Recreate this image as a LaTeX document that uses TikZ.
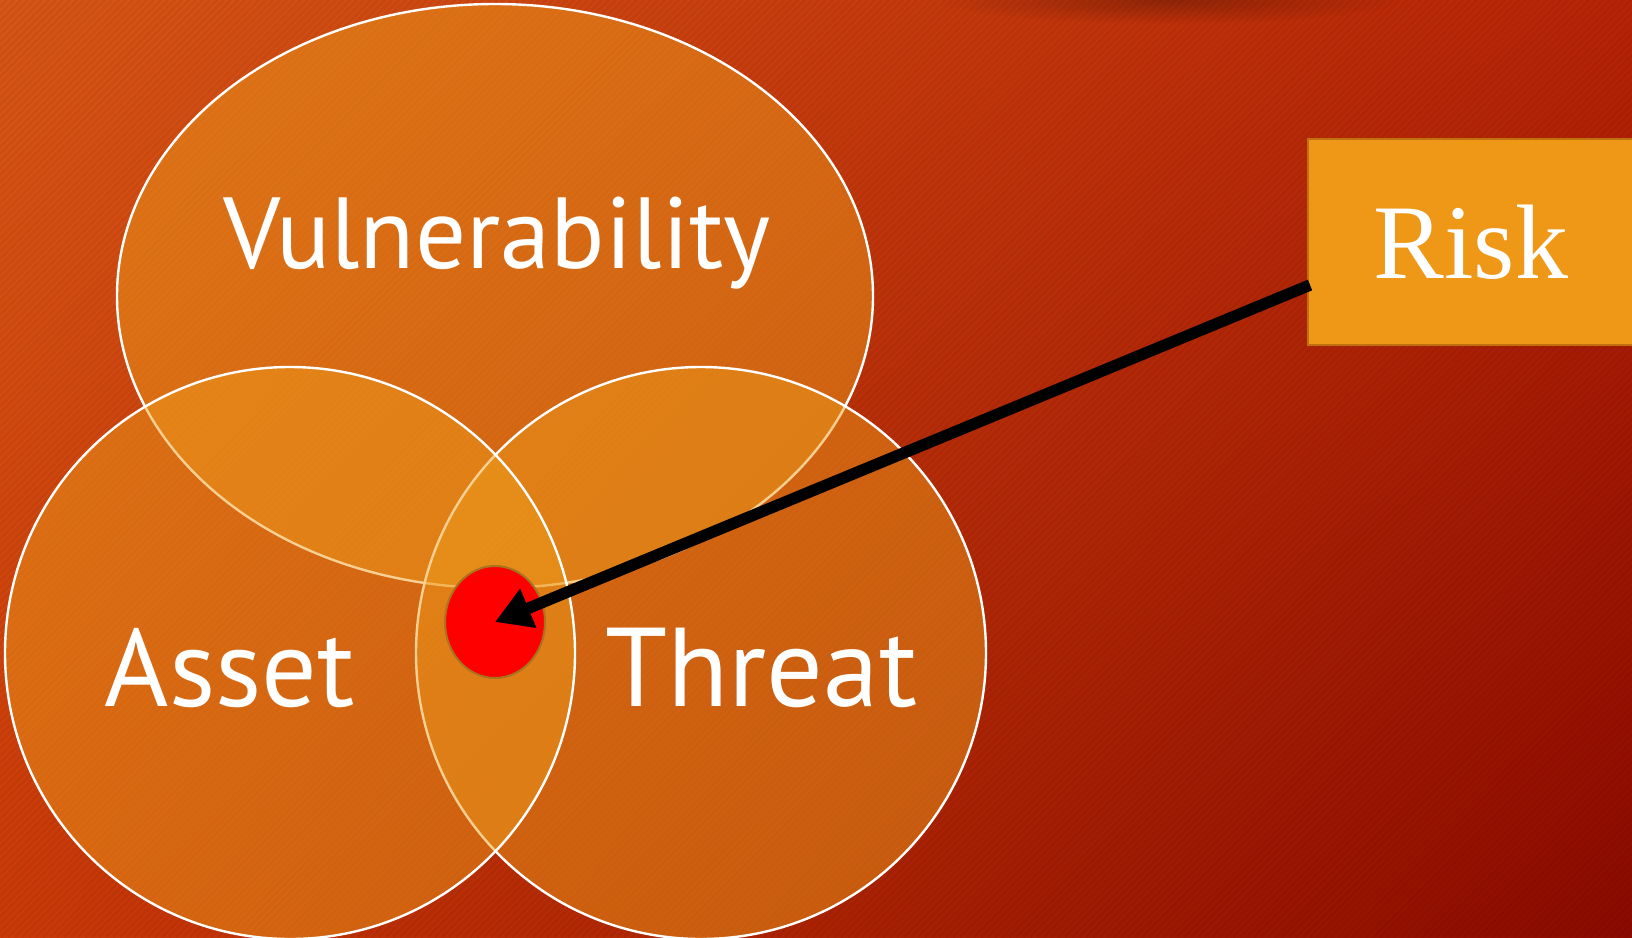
\documentclass[tikz,border=0pt]{standalone}
\usepackage{fontspec}
\usetikzlibrary{arrows.meta,fadings,shadings,shapes.geometric}
\newfontfamily\labelfont{PT Sans}
\newfontfamily\riskfont{Liberation Serif}

\definecolor{bgTL}{HTML}{DA5716}
\definecolor{bgTR}{HTML}{B82406}
\definecolor{bgBL}{HTML}{CC3A08}
\definecolor{bgBR}{HTML}{8C0A00}
\definecolor{setfill}{HTML}{EE9C1C}
\definecolor{riskfill}{HTML}{EF9716}
\definecolor{riskedge}{HTML}{C0700F}
\definecolor{dotedge}{HTML}{A8741E}

\tikzfading[name=softspot, inner color=transparent!0, outer color=transparent!100]

\tikzset{
  setshape/.style={ellipse, draw=white, line width=2.4pt, fill=setfill, fill opacity=0.48},
  setlabel/.style={text=white, inner sep=0pt, anchor=base},
  riskbox/.style={draw=riskedge, line width=2pt, fill=riskfill, text=white,
                  minimum width=326pt, minimum height=206pt, inner sep=0pt},
  pointer/.style={line width=11.5pt, black, -{Triangle[length=36pt,width=40pt]}}
}

\begin{document}
\begin{tikzpicture}[x=1pt,y=-1pt]
  \useasboundingbox (0,0) rectangle (1632,937);

  % background: diagonal gradient with fine stripes
  \shade[upper left=bgTL, upper right=bgTR, lower left=bgBL, lower right=bgBR]
    (0,0) rectangle (1632,937);
  \begin{scope}
    \clip (0,0) rectangle (1632,937);
    \foreach \s in {0,7,...,2576} {
      \draw[black, opacity=0.05, line width=3pt] (\s,0) -- (\s-937,937);
    }
    \fill[black, opacity=0.25, path fading=softspot] (1170,0) ellipse [x radius=230pt, y radius=24pt];
  \end{scope}

  % the three overlapping sets
  \node[setshape, minimum width=756pt, minimum height=584pt] (vuln) at (495,296) {};
  \node[setshape, minimum width=570pt, minimum height=572pt] (threat) at (701,653) {};
  \node[setshape, minimum width=570pt, minimum height=572pt] (asset) at (290,653) {};

  % labels
  \node[setlabel, font=\labelfont\fontsize{101}{106}\selectfont] (vulnlbl) at (497,268) {Vulnerability};
  \node[setlabel, font=\labelfont\fontsize{110}{116}\selectfont] (assetlbl) at (230,706) {Asset};
  \node[setlabel, font=\labelfont\fontsize{112}{118}\selectfont] (threatlbl) at (761,706) {Threat};

  % intersection marker
  \node[ellipse, fill=red, draw=dotedge, line width=2pt, minimum width=100pt, minimum height=112pt] (dot) at (495,622) {};

  % risk box and pointer
  \node[riskbox, font=\riskfont\fontsize{106}{110}\selectfont] (risk) at (1471,242) {Risk};
  \coordinate (riskfoot) at (1310,285);
  \draw[pointer] (riskfoot) -- (dot.center);
\end{tikzpicture}
\end{document}
